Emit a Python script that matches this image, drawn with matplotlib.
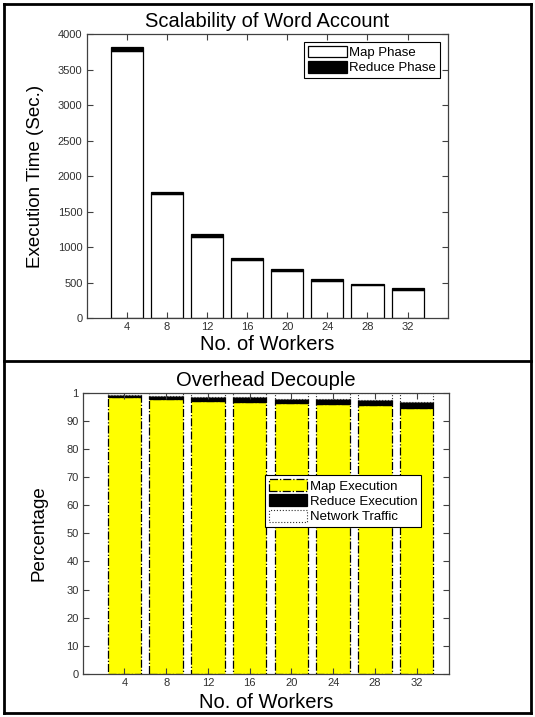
import matplotlib
matplotlib.use("Agg")
import matplotlib.pyplot as plt
from matplotlib.lines import Line2D

plt.rcParams['font.family'] = ['Liberation Sans', 'DejaVu Sans']

workers = [4, 8, 12, 16, 20, 24, 28, 32]
tick_labels = ['4', '8', '12', '16', '20', '24', '28', '32']

# Execution time (seconds)
map_phase = [3765, 1750, 1150, 825, 665, 525, 468, 402]
reduce_phase = [55, 33, 33, 22, 28, 24, 22, 28]

# Share of execution time (percent)
map_exec = [98.4, 97.7, 97.0, 96.7, 96.2, 96.0, 95.8, 94.5]
reduce_exec = [0.8, 1.0, 1.3, 1.6, 1.5, 1.7, 1.6, 2.3]
network = [100 - m - r for m, r in zip(map_exec, reduce_exec)]

pct_ticks = [0, 10, 20, 30, 40, 50, 60, 70, 80, 90, 100]
pct_labels = ['0', '10', '20', '30', '40', '50', '60', '70', '80', '90', '1']

W, H = 535, 717
fig = plt.figure(figsize=(W / 100, H / 100), dpi=100)

axis_col = '#404040'
tick_col = '#303030'
bw = 3.2


def style(ax):
    for s in ax.spines.values():
        s.set_color(axis_col)
        s.set_linewidth(0.9)
    ax.tick_params(direction='in', length=4, width=0.8, color=axis_col,
                   labelcolor=tick_col, labelsize=8, pad=3,
                   top=True, right=True)


def boxed_legend(ax, **kw):
    leg = ax.legend(fontsize=9.5, frameon=True, fancybox=False, framealpha=1,
                    handlelength=2.9, handleheight=1.0, handletextpad=0.2,
                    borderpad=0.3, labelspacing=0.15, borderaxespad=0, **kw)
    leg.get_frame().set_edgecolor('black')
    leg.get_frame().set_linewidth(0.8)
    return leg


# ---- top panel: execution time ----
ax1 = fig.add_axes([86.7 / W, 1 - 318.3 / H, 361 / W, 284 / H])
ax1.bar(workers, map_phase, width=bw, color='white', edgecolor='black',
        linewidth=0.9, label='Map Phase')
ax1.bar(workers, reduce_phase, width=bw, bottom=map_phase, color='black',
        edgecolor='black', linewidth=0.9, label='Reduce Phase')
ax1.set_xlim(0, 36)
ax1.set_ylim(0, 4000)
ax1.set_xticks(workers)
ax1.set_xticklabels(tick_labels)
ax1.set_yticks(range(0, 4001, 500))
style(ax1)
ax1.set_title('Scalability of Word Account', fontsize=14.5, pad=5)
ax1.set_xlabel('No. of Workers', fontsize=14.5)
ax1.set_ylabel('Execution Time (Sec.)', fontsize=13.5)
ax1.xaxis.set_label_coords(0.5, -0.094)
ax1.xaxis.label.set_va('center')
ax1.yaxis.set_label_coords(-0.143, 0.5)
ax1.yaxis.label.set_va('center')
boxed_legend(ax1, loc='upper right', bbox_to_anchor=(0.979, 0.974))

# ---- bottom panel: overhead decomposition ----
ax2 = fig.add_axes([82.7 / W, 1 - 674 / H, 366.3 / W, 281.3 / H])
ax2.bar(workers, map_exec, width=bw, color='#ffff00', edgecolor='black',
        linewidth=0.9, linestyle='-.', label='Map Execution')
ax2.bar(workers, reduce_exec, width=bw, bottom=map_exec, color='black',
        edgecolor='black', linewidth=0.9, label='Reduce Execution')
bottoms = [m + r for m, r in zip(map_exec, reduce_exec)]
ax2.bar(workers, network, width=bw, bottom=bottoms, color='white',
        edgecolor='#303030', linewidth=0.8, linestyle=':',
        label='Network Traffic')
ax2.set_xlim(0, 35.1)
ax2.set_ylim(0, 100)
ax2.set_xticks(workers)
ax2.set_xticklabels(tick_labels)
ax2.set_yticks(pct_ticks)
ax2.set_yticklabels(pct_labels)
style(ax2)
ax2.set_title('Overhead Decouple', fontsize=14.5, pad=5)
ax2.set_xlabel('No. of Workers', fontsize=14.5)
ax2.set_ylabel('Percentage', fontsize=13.5)
ax2.xaxis.set_label_coords(0.5, -0.103)
ax2.xaxis.label.set_va('center')
ax2.yaxis.set_label_coords(-0.119, 0.5)
ax2.yaxis.label.set_va('center')
boxed_legend(ax2, loc='upper left', bbox_to_anchor=(0.497, 0.707))

# ---- outer frame and divider ----
L, R, T, B, D = 4, 531, 4, 713, 361
lw = 2.0
for xs, ys in [((L, R), (T, T)), ((L, R), (B, B)), ((L, L), (T, B)),
               ((R, R), (T, B)), ((L, R), (D, D))]:
    fig.add_artist(Line2D([x / W for x in xs], [1 - y / H for y in ys],
                          color='black', linewidth=lw,
                          transform=fig.transFigure))

fig.savefig('out.png', dpi=100)
